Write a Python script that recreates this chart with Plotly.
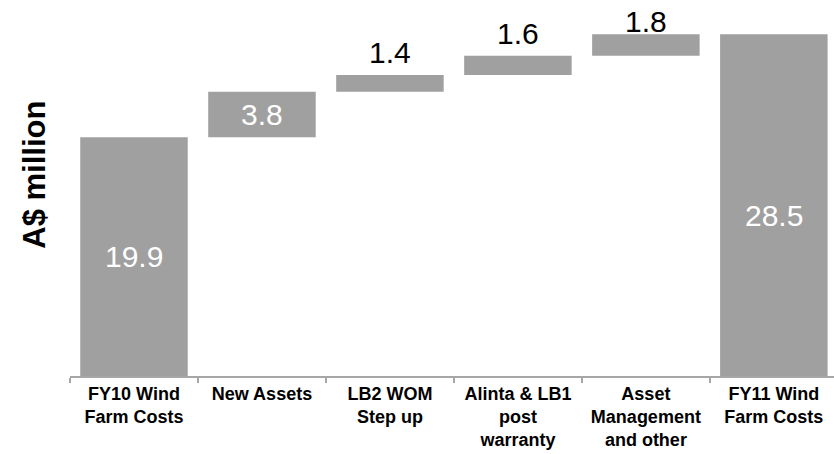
import plotly.graph_objects as go

categories = ["FY10 Wind<br>Farm Costs", "New Assets", "LB2 WOM<br>Step up",
              "Alinta & LB1<br>post<br>warranty", "Asset<br>Management<br>and other",
              "FY11 Wind<br>Farm Costs"]
values = [19.9, 3.8, 1.4, 1.6, 1.8, 28.5]
measures = ["absolute", "relative", "relative", "relative", "relative", "total"]
labels = ["19.9", "3.8", "1.4", "1.6", "1.8", "28.5"]

gray = "#A0A0A0"
axis_gray = "#A6A6A6"
num_font = "Liberation Sans, Arial, sans-serif"

fig = go.Figure(go.Waterfall(
    x=categories, y=values, measure=measures,
    increasing=dict(marker=dict(color=gray)),
    decreasing=dict(marker=dict(color=gray)),
    totals=dict(marker=dict(color=gray)),
    connector=dict(visible=False),
    hoverinfo="skip",
    width=0.84,
))

# label placement: inside (white, centered) for big bars, above for small steps
label_inside = [True, True, False, False, False, True]
label_shift = [0, 0, 4, 4, -6, -10]

running = 0.0
for cat, val, meas, lab, inside, sh in zip(categories, values, measures, labels,
                                           label_inside, label_shift):
    if meas == "absolute":
        base, top = 0.0, val
        running = val
    elif meas == "total":
        base, top = 0.0, running
    else:
        base, top = running, running + val
        running = top
    if inside:
        fig.add_annotation(x=cat, y=(base + top) / 2, text=lab, showarrow=False,
                           yanchor="middle", yshift=sh,
                           font=dict(family=num_font, size=30, color="white"))
    else:
        fig.add_annotation(x=cat, y=top, text=lab, showarrow=False,
                           yanchor="bottom", yshift=sh,
                           font=dict(family=num_font, size=30, color="black"))

fig.add_annotation(xref="paper", yref="paper", x=-0.046, y=0.535,
                   text="<b>A$ million</b>", textangle=-90, showarrow=False,
                   xanchor="center", yanchor="middle",
                   font=dict(family=num_font, size=31, color="black"))

fig.update_layout(
    width=834, height=454,
    margin=dict(l=70, r=0, t=0, b=78, autoexpand=False),
    plot_bgcolor="white", paper_bgcolor="white",
    showlegend=False,
    xaxis=dict(range=[-0.5, 5.47], showline=True, linecolor=axis_gray, linewidth=2,
               ticks="outside", tickson="boundaries", ticklen=5, tickcolor=axis_gray,
               tickwidth=1.5,
               tickfont=dict(family=num_font, size=18, color="black", weight="bold"),
               showgrid=False, zeroline=False, automargin=False),
    yaxis=dict(range=[0, 31.35], showticklabels=False, showgrid=False, zeroline=False,
               showline=False, automargin=False),
)

fig.write_html("out.html", config={"displayModeBar": False},
               post_script="document.body.style.margin='0px';document.body.style.overflow='hidden';")
